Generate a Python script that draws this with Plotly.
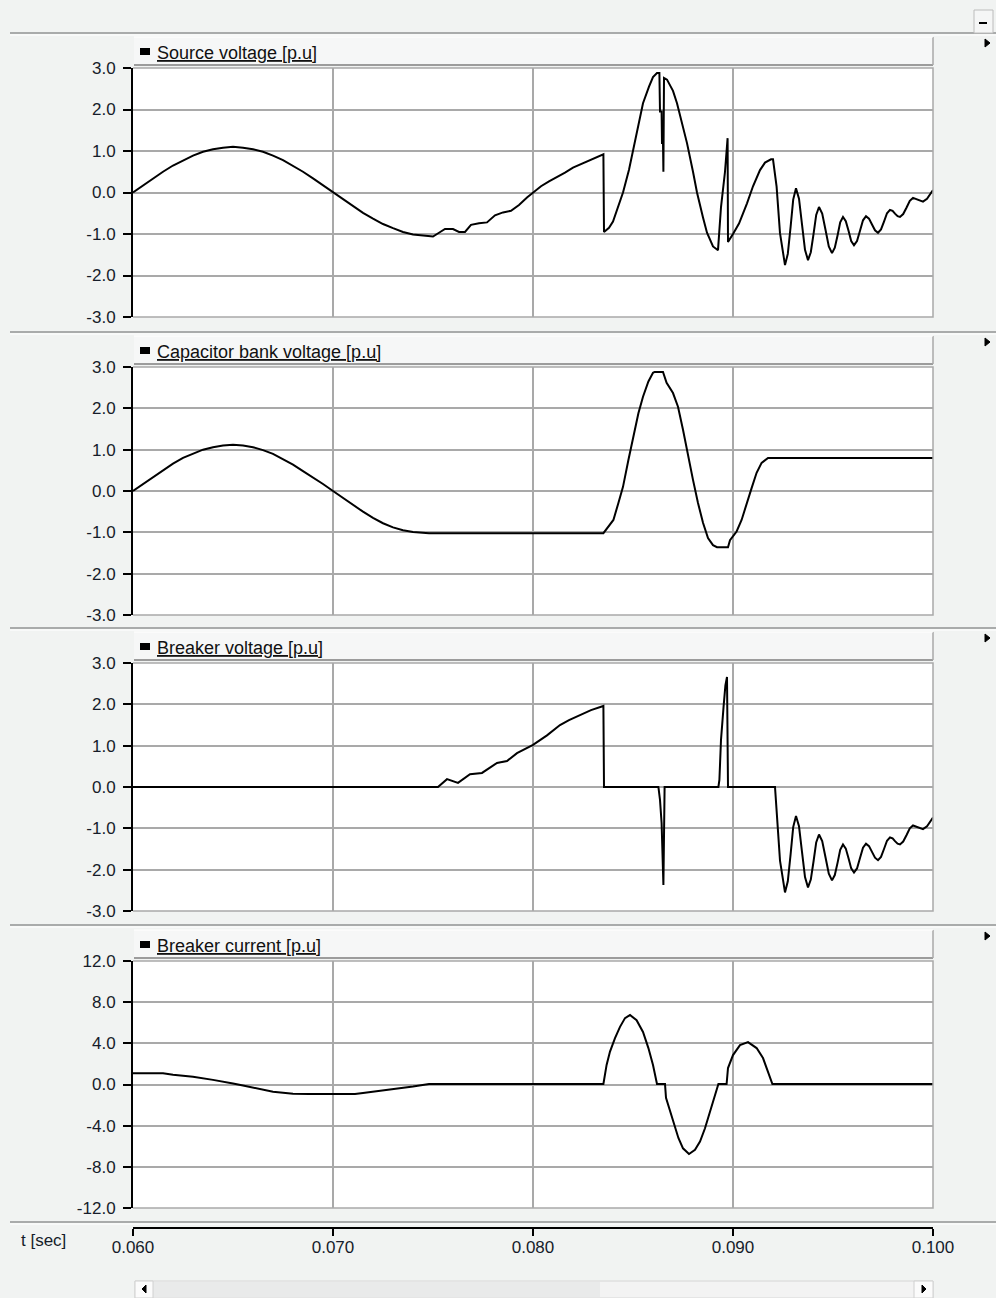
import plotly.graph_objects as go

# ---------------- data ----------------
x_ticks = [0.060, 0.070, 0.080, 0.090, 0.100]
x_labels = ["0.060", "0.070", "0.080", "0.090", "0.100"]
v_ticks = [-3.0, -2.0, -1.0, 0.0, 1.0, 2.0, 3.0]
v_labels = ["-3.0", "-2.0", "-1.0", "0.0", "1.0", "2.0", "3.0"]
i_ticks = [-12.0, -8.0, -4.0, 0.0, 4.0, 8.0, 12.0]
i_labels = ["-12.0", "-8.0", "-4.0", "0.0", "4.0", "8.0", "12.0"]
titles = ["Source voltage [p.u]", "Capacitor bank voltage [p.u]",
          "Breaker voltage [p.u]", "Breaker current [p.u]"]

t_src = [0.0600, 0.0605, 0.0610, 0.0615, 0.0620, 0.0625, 0.0630, 0.0635, 0.0640, 0.0645,
         0.0650, 0.0655, 0.0660, 0.0665, 0.0670, 0.0675, 0.0680, 0.0685, 0.0690, 0.0695,
         0.0700, 0.0705, 0.0710, 0.0715, 0.0720, 0.0725, 0.0730, 0.0735, 0.0740, 0.0745,
         0.0750, 0.0753, 0.0756, 0.0760, 0.0763, 0.0766, 0.0769, 0.0773, 0.0777, 0.0781,
         0.0785, 0.0789, 0.0793, 0.0797, 0.0800, 0.0804, 0.0808, 0.0812, 0.0816, 0.0820,
         0.0824, 0.0828, 0.0832, 0.08352, 0.08355, 0.0838, 0.0840, 0.0842, 0.0845, 0.0848,
         0.0850, 0.0852, 0.0855, 0.0858, 0.0860, 0.0862, 0.08632, 0.08635, 0.08643, 0.08645,
         0.0865, 0.08652, 0.08655, 0.0867, 0.0870, 0.0872, 0.0875, 0.0877, 0.0880, 0.0882,
         0.0885, 0.0887, 0.0890, 0.08925, 0.0894, 0.0896, 0.08973, 0.08975, 0.0900, 0.0903,
         0.0907, 0.0910, 0.09135, 0.0916, 0.0919, 0.0920, 0.09218, 0.09235, 0.0926, 0.09274,
         0.09288, 0.09301, 0.09315, 0.0933, 0.09345, 0.0936, 0.09375, 0.09389, 0.09403, 0.09416,
         0.0943, 0.09446, 0.09463, 0.09479, 0.09495, 0.09509, 0.09523, 0.09536, 0.0955, 0.09564,
         0.09578, 0.09591, 0.09605, 0.0962, 0.09635, 0.0965, 0.09665, 0.0968, 0.09695, 0.0971,
         0.09725, 0.0974, 0.09755, 0.0977, 0.09785, 0.09798, 0.0981, 0.09823, 0.09835, 0.09851,
         0.09868, 0.09884, 0.0990, 0.09925, 0.0995, 0.0997, 0.0999, 0.1000]
v_src = [0.00, 0.17, 0.34, 0.50, 0.65, 0.78, 0.89, 0.98, 1.04, 1.08,
         1.10, 1.08, 1.04, 0.98, 0.89, 0.78, 0.65, 0.50, 0.34, 0.17,
         0.00, -0.17, -0.33, -0.49, -0.63, -0.76, -0.86, -0.95, -1.01, -1.04,
         -1.06, -0.97, -0.88, -0.88, -0.95, -0.95, -0.78, -0.74, -0.72, -0.55,
         -0.48, -0.44, -0.30, -0.12, 0.00, 0.15, 0.27, 0.37, 0.48, 0.60,
         0.68, 0.76, 0.84, 0.92, -0.95, -0.85, -0.70, -0.40, 0.00, 0.55,
         1.00, 1.45, 2.15, 2.55, 2.78, 2.88, 2.88, 1.95, 1.95, 1.19,
         1.19, 0.50, 2.76, 2.72, 2.45, 2.15, 1.60, 1.19, 0.50, 0.00,
         -0.60, -0.97, -1.30, -1.39, -0.35, 0.50, 1.31, -1.19, -1.00, -0.75,
         -0.26, 0.15, 0.54, 0.72, 0.80, 0.80, 0.14, -0.98, -1.75, -1.48,
         -0.83, -0.17, 0.10, -0.15, -0.77, -1.38, -1.63, -1.44, -0.99, -0.54,
         -0.35, -0.51, -0.91, -1.30, -1.46, -1.33, -1.03, -0.72, -0.59, -0.69,
         -0.93, -1.17, -1.27, -1.17, -0.92, -0.67, -0.57, -0.63, -0.77, -0.91,
         -0.97, -0.89, -0.70, -0.50, -0.42, -0.44, -0.51, -0.57, -0.59, -0.52,
         -0.36, -0.20, -0.13, -0.18, -0.22, -0.15, 0.00, 0.06]

t_cap = [0.0600, 0.0605, 0.0610, 0.0615, 0.0620, 0.0625, 0.0630, 0.0635, 0.0640, 0.0645,
         0.0650, 0.0655, 0.0660, 0.0665, 0.0670, 0.0675, 0.0680, 0.0685, 0.0690, 0.0695,
         0.0700, 0.0705, 0.0710, 0.0715, 0.0720, 0.0725, 0.0730, 0.0735, 0.0740, 0.0745,
         0.0748, 0.08352, 0.08377, 0.08402, 0.08427, 0.0845, 0.08477, 0.08502, 0.08527, 0.0855,
         0.08577, 0.0860, 0.08608, 0.0865, 0.08668, 0.0870, 0.08725, 0.0875, 0.08775, 0.0880,
         0.08825, 0.0885, 0.08875, 0.0890, 0.0892, 0.08975, 0.08985, 0.09018, 0.09043, 0.09068,
         0.09093, 0.09118, 0.09143, 0.09175, 0.1000]
v_cap = [0.00, 0.17, 0.34, 0.51, 0.66, 0.80, 0.91, 1.00, 1.06, 1.10,
         1.12, 1.10, 1.06, 0.99, 0.90, 0.78, 0.64, 0.48, 0.33, 0.17,
         0.00, -0.17, -0.34, -0.50, -0.65, -0.78, -0.88, -0.95, -0.99, -1.01,
         -1.02, -1.02, -0.86, -0.70, -0.29, 0.10, 0.75, 1.31, 1.88, 2.28,
         2.65, 2.86, 2.88, 2.88, 2.62, 2.37, 2.04, 1.48, 0.84, 0.27,
         -0.29, -0.77, -1.14, -1.31, -1.36, -1.36, -1.19, -0.98, -0.70, -0.29,
         0.07, 0.44, 0.68, 0.80, 0.80]

t_brv = [0.0600, 0.07525, 0.0757, 0.07625, 0.07685, 0.07745, 0.0782, 0.0787, 0.0792, 0.0800,
         0.0807, 0.08135, 0.0818, 0.08235, 0.0829, 0.08352, 0.08355, 0.08627, 0.08635, 0.08643,
         0.0865, 0.08652, 0.08658, 0.08927, 0.08932, 0.0894, 0.08953, 0.08962, 0.0897, 0.08975,
         0.0921, 0.09218, 0.09235, 0.0926, 0.09274, 0.09288, 0.09301, 0.09315, 0.0933, 0.09345,
         0.0936, 0.09375, 0.09389, 0.09403, 0.09416, 0.0943, 0.09446, 0.09463, 0.09479, 0.09495,
         0.09509, 0.09523, 0.09536, 0.0955, 0.09564, 0.09578, 0.09591, 0.09605, 0.0962, 0.09635,
         0.0965, 0.09665, 0.0968, 0.09695, 0.0971, 0.09725, 0.0974, 0.09755, 0.0977, 0.09785,
         0.09798, 0.0981, 0.09823, 0.09835, 0.09851, 0.09868, 0.09884, 0.0990, 0.09925, 0.0995,
         0.0997, 0.0999, 0.1000]
v_brv = [0.00, 0.00, 0.19, 0.10, 0.31, 0.34, 0.58, 0.63, 0.82, 1.02,
         1.25, 1.50, 1.62, 1.74, 1.86, 1.96, 0.00, 0.00, -0.31, -0.87,
         -2.37, -2.37, 0.00, 0.00, 0.17, 1.14, 1.95, 2.46, 2.66, 0.00,
         0.00, -0.66, -1.78, -2.55, -2.28, -1.63, -0.97, -0.70, -0.95, -1.57,
         -2.18, -2.43, -2.24, -1.79, -1.34, -1.15, -1.31, -1.71, -2.10, -2.26,
         -2.13, -1.83, -1.52, -1.39, -1.49, -1.73, -1.97, -2.07, -1.97, -1.72,
         -1.47, -1.37, -1.43, -1.57, -1.71, -1.77, -1.69, -1.50, -1.30, -1.22,
         -1.24, -1.31, -1.37, -1.39, -1.32, -1.16, -1.00, -0.93, -0.98, -1.02,
         -0.95, -0.80, -0.74]

t_bri = [0.0600, 0.0615, 0.0620, 0.0630, 0.0640, 0.0645, 0.0650, 0.0655, 0.0660, 0.0665,
         0.0670, 0.0675, 0.0680, 0.0688, 0.0700, 0.0711, 0.0715, 0.0720, 0.0730, 0.0740,
         0.0748, 0.08352, 0.08368, 0.08385, 0.0841, 0.08435, 0.0846, 0.08485, 0.08518, 0.0855,
         0.08577, 0.0860, 0.0862, 0.0866, 0.08665, 0.08685, 0.08727, 0.0875, 0.0878, 0.0881,
         0.08835, 0.0886, 0.08885, 0.0891, 0.08927, 0.08968, 0.08975, 0.0900, 0.09035, 0.09075,
         0.09118, 0.0915, 0.09175, 0.09197, 0.1000]
v_bri = [1.10, 1.10, 0.95, 0.75, 0.45, 0.30, 0.10, -0.10, -0.30, -0.50,
         -0.70, -0.80, -0.90, -0.92, -0.92, -0.92, -0.82, -0.70, -0.45, -0.20,
         0.05, 0.05, 1.90, 3.20, 4.50, 5.60, 6.45, 6.75, 6.25, 5.10,
         3.54, 1.90, 0.05, 0.05, -1.30, -2.64, -5.20, -6.20, -6.75, -6.35,
         -5.55, -4.25, -2.64, -1.00, 0.05, 0.05, 1.60, 2.86, 3.83, 4.12,
         3.54, 2.57, 1.24, 0.05, 0.05]

# ---------------- layout geometry (pixels) ----------------
W, H = 996, 1298
def px(x):
    return x / W
def py(y):
    return 1 - y / H

X0, X1 = 133, 933
tops = [68, 367, 663, 961]
bots = [317, 615, 911, 1208]
seps = [33, 332, 628, 925, 1222]

BG = "#f1f3f2"
GRID = "#a9a9a9"
FONT = "Liberation Sans, Arial, sans-serif"
TXT = "#161c2a"

fig = go.Figure()
series = [(t_src, v_src), (t_cap, v_cap), (t_brv, v_brv), (t_bri, v_bri)]
for i, (t, v) in enumerate(series):
    sfx = "" if i == 0 else str(i + 1)
    fig.add_trace(go.Scatter(x=t, y=v, mode="lines",
                             line=dict(color="black", width=2),
                             xaxis="x" + sfx, yaxis="y" + sfx,
                             showlegend=False, hoverinfo="skip"))

layout = dict(width=W, height=H, margin=dict(l=0, r=0, t=0, b=0, pad=0),
              paper_bgcolor=BG, plot_bgcolor="white", showlegend=False,
              template="none")

for i in range(4):
    sfx = "" if i == 0 else str(i + 1)
    yt = i_ticks if i == 3 else v_ticks
    yl = i_labels if i == 3 else v_labels
    xa = dict(domain=[px(X0), px(X1)], range=[0.060, 0.100], tickvals=x_ticks,
              ticktext=x_labels, automargin=False,
              showgrid=True, gridcolor=GRID, gridwidth=1.5, zeroline=False,
              fixedrange=True)
    if i < 3:
        xa.update(anchor="y" + sfx, showticklabels=False, ticks="", showline=False)
    else:
        xa.update(anchor="free", position=py(1228), showline=True, linecolor="black",
                  linewidth=2, ticks="outside", ticklen=7, tickwidth=2, tickcolor="black",
                  tickfont=dict(family=FONT, size=17, color=TXT),
                  ticklabelstandoff=-3)
    ya = dict(domain=[py(bots[i]), py(tops[i])], range=[yt[0], yt[-1]], tickvals=yt,
              ticktext=yl, automargin=False,
              showgrid=True, gridcolor=GRID, gridwidth=1.5,
              zeroline=False, showline=True, linecolor="black", linewidth=2,
              ticks="outside", ticklen=8, tickwidth=1.5, tickcolor="black",
              tickfont=dict(family=FONT, size=17, color=TXT), anchor="x" + sfx,
              ticklabelstandoff=4, fixedrange=True)
    layout["xaxis" + sfx] = xa
    layout["yaxis" + sfx] = ya

shapes = []
annotations = []

# separators
for s in seps:
    shapes.append(dict(type="line", xref="paper", yref="paper", x0=px(10), x1=1,
                       y0=py(s), y1=py(s), line=dict(color="#a9abab", width=2)))
    shapes.append(dict(type="line", xref="paper", yref="paper", x0=px(10), x1=1,
                       y0=py(s + 2), y1=py(s + 2), line=dict(color="#ffffff", width=1)))

for i in range(4):
    T, B = tops[i], bots[i]
    # header bar
    shapes.append(dict(type="rect", xref="paper", yref="paper", layer="below",
                       x0=px(134), x1=px(X1), y0=py(T - 3), y1=py(T - 31),
                       fillcolor="#f6f7f7", line=dict(width=0)))
    shapes.append(dict(type="line", xref="paper", yref="paper",
                       x0=px(134), x1=px(X1), y0=py(T - 3), y1=py(T - 3),
                       line=dict(color="#9c9c9c", width=2)))
    shapes.append(dict(type="line", xref="paper", yref="paper",
                       x0=px(X1), x1=px(X1), y0=py(T - 31), y1=py(T - 3),
                       line=dict(color="#a8a8a8", width=1.5)))
    shapes.append(dict(type="line", xref="paper", yref="paper",
                       x0=px(134), x1=px(X1), y0=py(T - 31), y1=py(T - 31),
                       line=dict(color="#ffffff", width=1)))
    # legend square
    shapes.append(dict(type="rect", xref="paper", yref="paper",
                       x0=px(140), x1=px(150), y0=py(T - 13), y1=py(T - 20),
                       fillcolor="black", line=dict(width=0)))
    annotations.append(dict(xref="paper", yref="paper", x=px(155), y=py(T - 15),
                            xanchor="left", yanchor="middle", showarrow=False,
                            text='<span style="text-decoration:underline">' + titles[i] + "</span>",
                            font=dict(family=FONT, size=18, color="#111111")))
    # right arrow
    shapes.append(dict(type="path", xref="paper", yref="paper",
                       path="M {} {} L {} {} L {} {} Z".format(px(985), py(T - 29), px(990), py(T - 25),
                                                               px(985), py(T - 21)),
                       fillcolor="black", line=dict(color="black", width=1)))
    # plot border (top, right, bottom)
    shapes.append(dict(type="path", xref="paper", yref="paper", layer="above",
                       path="M {} {} L {} {} L {} {} L {} {}".format(px(X0), py(T), px(X1), py(T),
                                                                     px(X1), py(B), px(X0), py(B)),
                       line=dict(color=GRID, width=1.5)))

# top-right minimize button
shapes.append(dict(type="rect", xref="paper", yref="paper", x0=px(974), x1=px(993),
                   y0=py(10), y1=py(33), fillcolor="#f5f6f6", line=dict(color="#bcbcbc", width=1)))
shapes.append(dict(type="line", xref="paper", yref="paper", x0=px(979), x1=px(987),
                   y0=py(23), y1=py(23), line=dict(color="black", width=2)))

# time axis label
annotations.append(dict(xref="paper", yref="paper", x=px(19), y=py(1240),
                        xanchor="left", yanchor="middle", showarrow=False,
                        text="t [sec]", font=dict(family=FONT, size=17, color=TXT)))

# scrollbar
shapes.append(dict(type="rect", xref="paper", yref="paper", x0=px(135), x1=px(933),
                   y0=py(1298), y1=py(1281), fillcolor="#f3f3f3", line=dict(color="#d6d6d6", width=1)))
shapes.append(dict(type="rect", xref="paper", yref="paper", x0=px(153), x1=px(600),
                   y0=py(1297), y1=py(1282), fillcolor="#e9eaea", line=dict(width=0)))
shapes.append(dict(type="rect", xref="paper", yref="paper", x0=px(135), x1=px(153),
                   y0=py(1298), y1=py(1281), fillcolor="#fbfbfb", line=dict(color="#d0d0d0", width=1)))
shapes.append(dict(type="rect", xref="paper", yref="paper", x0=px(914), x1=px(933),
                   y0=py(1298), y1=py(1281), fillcolor="#fbfbfb", line=dict(color="#d0d0d0", width=1)))
shapes.append(dict(type="path", xref="paper", yref="paper",
                   path="M {} {} L {} {} L {} {} Z".format(px(146), py(1285), px(142), py(1289),
                                                           px(146), py(1293)),
                   fillcolor="black", line=dict(color="black", width=1)))
shapes.append(dict(type="path", xref="paper", yref="paper",
                   path="M {} {} L {} {} L {} {} Z".format(px(922), py(1285), px(926), py(1289),
                                                           px(922), py(1293)),
                   fillcolor="black", line=dict(color="black", width=1)))

layout["shapes"] = shapes
layout["annotations"] = annotations
fig.update_layout(**layout)
fig.write_html("out.html", config={"displayModeBar": False},
               post_script="document.body.style.margin='0';document.body.style.overflow='hidden';")
